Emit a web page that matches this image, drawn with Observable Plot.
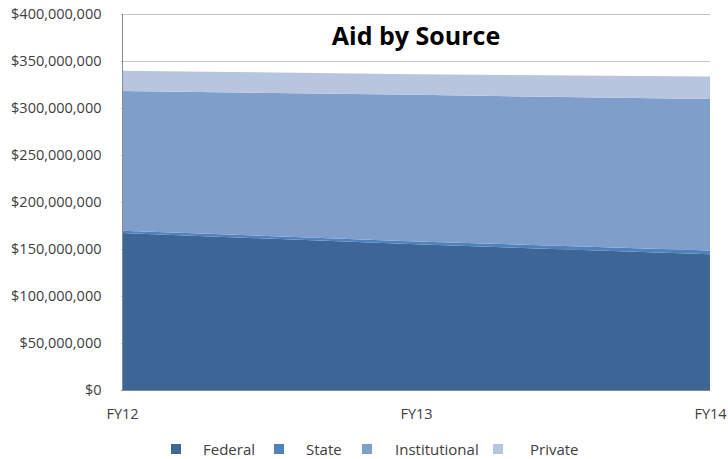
<!DOCTYPE html>
<html>
<head>
<meta charset="utf-8">
<script src="https://cdn.jsdelivr.net/npm/d3@7"></script>
<script src="https://cdn.jsdelivr.net/npm/@observablehq/plot@0.6"></script>
<style>
  html, body { margin: 0; padding: 0; background: #fff; }
  #wrap { width: 728px; position: relative; }
  #legend { position: relative; width: 728px; height: 29px; font-family: "Open Sans", sans-serif; font-size: 15px; color: #404040; }
  .sw { position: absolute; width: 10px; height: 10px; top: 14px; }
  .lb { position: absolute; top: 9px; line-height: 20px; white-space: nowrap; }
</style>
</head>
<body>
<div id="wrap"></div>
<script>
const years = ["FY12", "FY13", "FY14"];
const sources = ["Federal", "State", "Institutional", "Private"];
const federal = [167000000, 155000000, 144500000];
const state = [2500000, 3000000, 4000000];
const institutional = [148500000, 156000000, 161000000];
const privateAid = [21500000, 22000000, 24000000];
const colors = ["#3D6595", "#4F81BD", "#7F9ECA", "#B7C5DF"];
const yTicks = [0, 50000000, 100000000, 150000000, 200000000, 250000000, 300000000, 350000000, 400000000];
const title = "Aid by Source";

const seriesValues = [federal, state, institutional, privateAid];
const data = [];
sources.forEach((s, i) => years.forEach((y, j) => data.push({source: s, year: y, value: seriesValues[i][j]})));

const fmt = d3.format("$,");

const chart = Plot.plot({
  width: 728,
  height: 430,
  marginTop: 14,
  marginBottom: 40,
  marginLeft: 121,
  marginRight: 18,
  style: {fontFamily: "Open Sans, sans-serif", fontSize: "14.5px", color: "#404040", background: "white"},
  x: {type: "point", domain: years, padding: 0, label: null},
  y: {domain: [0, 400000000], label: null},
  color: {domain: sources, range: colors},
  marks: [
    Plot.ruleY(yTicks, {stroke: "#c4c4c4", strokeWidth: 1}),
    Plot.areaY(data, {x: "year", y: "value", fill: "source", z: "source"}),
    Plot.ruleX([years[0]], {stroke: "#8a8a8a", strokeWidth: 1}),
    Plot.ruleY([0], {stroke: "#8a8a8a", strokeWidth: 1}),
    Plot.axisY({ticks: yTicks, tickSize: 0, tickPadding: 20, tickFormat: fmt, label: null}),
    Plot.axisX({tickSize: 0, tickPadding: 18, label: null}),
    Plot.text([title], {frameAnchor: "top", dy: 22, lineAnchor: "middle", fontWeight: "bold", fontSize: 25, fill: "#000", text: d => d})
  ]
});
document.getElementById("wrap").appendChild(chart);

const legend = document.createElement("div");
legend.id = "legend";
const swX = [171, 274, 362, 493];
const lbX = [203, 306, 395, 530];
sources.forEach((s, i) => {
  const sw = document.createElement("div");
  sw.className = "sw";
  sw.style.left = swX[i] + "px";
  sw.style.background = colors[i];
  legend.appendChild(sw);
  const lb = document.createElement("div");
  lb.className = "lb";
  lb.style.left = lbX[i] + "px";
  lb.textContent = s;
  legend.appendChild(lb);
});
document.getElementById("wrap").appendChild(legend);
</script>
</body>
</html>
